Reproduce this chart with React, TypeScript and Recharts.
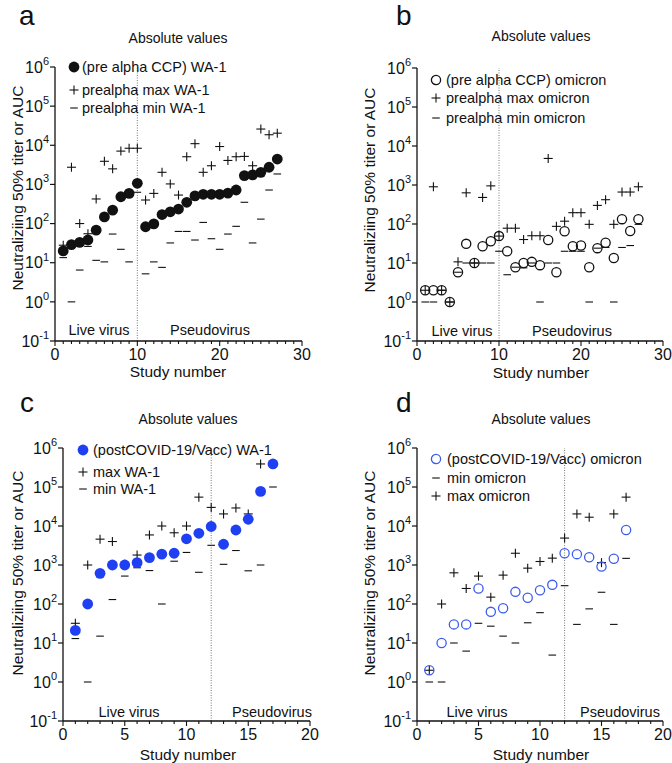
import React from 'react';
import { ScatterChart, Scatter, XAxis, YAxis, ReferenceLine } from 'recharts';

const FONT = '"Liberation Sans", Arial, Helvetica, sans-serif';
const BLUE = '#1f3ff2';
const BLUE_OPEN = '#3d5cf0';
const INK = '#111';

// y ticks (log decades) shared by all panels
const logTicks = [0.1, 1, 10, 100, 1000, 10000, 100000, 1000000];

// panel a / b : pre alpha CCP, 27 studies
const studiesPre = [1, 2, 3, 4, 5, 6, 7, 8, 9, 10, 11, 12, 13, 14, 15, 16, 17, 18, 19, 20, 21, 22, 23, 24, 25, 26, 27];
const preWa1 = [20, 29, 33, 38, 68, 148, 220, 485, 590, 1070, 83, 98, 170, 200, 235, 350, 510, 560, 560, 560, 600, 720, 1680, 1750, 2040, 2750, 4450];
const preWa1Max = [28, 2750, 100, 55, 425, 3900, 2500, 7100, 8400, 8400, 400, 590, 2040, 1030, 535, 5100, 11000, 2040, 3000, 9300, 4100, 5100, 5200, 3000, 26000, 18600, 20400];
const preWa1Min = [13.5, 1, 6.5, 26, 11.5, 10.5, 54, 22, 10.5, 630, 5.2, 10.5, 7.6, 32, 63, 63, 38, 107, 41, 22, 54, 85, 350, 32, 130, 720, 1850];

const preOmi = [2, 2, 2, 1, 5.8, 31, 10, 27, 36, 49, 20, 7.8, 10, 10.7, 8.8, 39, 5.8, 65, 27, 28, 7.8, 24, 33, 13.4, 133, 66, 133];
const preOmiMax = [2, 900, 2, 1, 10.7, 630, 10, 480, 950, 49, 78, 78, 40, 50, 50, 4800, 87, 118, 195, 195, 98, 300, 420, 98, 660, 660, 900];
const preOmiMin = [1, 1, 2, 1, 5.8, 10, 10, 10, 10, 20, 5, 7.8, 7.5, 10, 1, 10, 10, 20, 20, 20, 1, 24, 25, 1, 25, 28, 98];

// panel c / d : postCOVID-19/Vacc, 17 studies
const studiesPost = [1, 2, 3, 4, 5, 6, 7, 8, 9, 10, 11, 12, 13, 14, 15, 16, 17];
const postWa1 = [21, 100, 610, 1000, 1000, 1150, 1550, 1900, 2000, 4700, 6500, 9700, 3400, 7900, 14900, 77000, 390000];
const postWa1Max = [32, 1000, 4600, 4000, 1050, 1800, 5900, 10000, 6700, 10000, 55000, 30000, 20400, 29000, 20400, 390000, 400000];
const postWa1Min = [13, 1, 15, 130, 520, 850, 720, 100, 1250, 2100, 650, 3200, 1040, 2350, 710, 1000, 100000];

const postOmi = [2, 10, 30, 30, 250, 63, 78, 205, 145, 225, 310, 2000, 1900, 1580, 910, 1450, 7900];
const postOmiMax = [2, 100, 630, 250, 520, 150, 550, 2000, 830, 1230, 1500, 4900, 20400, 16800, 1150, 20400, 55000];
const postOmiMin = [1, 1, 10, 6.2, 32, 27, 15, 10, 33, 60, 4.9, 295, 30, 75, 200, 30, 1480];

const xTicks30 = [0, 1, 2, 3, 4, 5, 6, 7, 8, 9, 10, 11, 12, 13, 14, 15, 16, 17, 18, 19, 20, 21, 22, 23, 24, 25, 26, 27, 28, 29, 30];
const xTicks20 = [0, 1, 2, 3, 4, 5, 6, 7, 8, 9, 10, 11, 12, 13, 14, 15, 16, 17, 18, 19, 20];

type Kind = 'dot' | 'open' | 'plus' | 'minus';

function Marker({ kind, cx, cy, color }: { kind: Kind; cx: number; cy: number; color: string }) {
    if (kind === 'dot') return <circle cx={cx} cy={cy} r={5.4} fill={color} />;
    if (kind === 'open') return <circle cx={cx} cy={cy} r={4.6} fill="none" stroke={color} strokeWidth={1.3} />;
    if (kind === 'plus') {
        return (
            <g stroke={INK} strokeWidth={1.1}>
                <line x1={cx - 4.5} x2={cx + 4.5} y1={cy} y2={cy} />
                <line x1={cx} x2={cx} y1={cy - 4.5} y2={cy + 4.5} />
            </g>
        );
    }
    return <line x1={cx - 3.8} x2={cx + 3.8} y1={cy} y2={cy} stroke={INK} strokeWidth={1.1} />;
}

const shapeOf = (kind: Kind, color: string) => (p: any) => <Marker kind={kind} cx={p.cx} cy={p.cy} color={color} />;

const LogTick = ({ x, y, payload }: any) => {
    const exp = Math.round(Math.log10(payload.value));
    return (
        <text x={x} y={y} textAnchor="end" fontSize={16} fill={INK} fontFamily={FONT}>
            <tspan dy="0.36em">10</tspan>
            <tspan dy="-0.72em" fontSize={11}>{exp}</tspan>
        </text>
    );
};

const makeXTick = (majorEvery: number) => ({ x, y, payload }: any) => {
    const major = payload.value % majorEvery === 0;
    return (
        <g>
            <line x1={x} x2={x} y1={y} y2={y + (major ? 5 : 3)} stroke={INK} strokeWidth={1.1} />
            {major && (
                <text x={x} y={y + 19} textAnchor="middle" fontSize={16} fill={INK} fontFamily={FONT}>
                    {payload.value}
                </text>
            )}
        </g>
    );
};

interface PanelProps {
    left: number;
    top: number;
    width: number;
    height: number;
    plot: [number, number, number, number]; // left, right, top, bottom
    studies: number[];
    mid: number[];
    max: number[];
    min: number[];
    midKind: Kind;
    midColor: string;
    xMax: number;
    xTicks: number[];
    majorEvery: number;
    divider: number;
}

function Panel(p: PanelProps) {
    const yAxisWidth = 50;
    const xAxisHeight = 30;
    const [pl, pr, pt, pb] = p.plot;
    const margin = { left: pl - yAxisWidth, right: p.width - pr, top: pt, bottom: p.height - pb - xAxisHeight };
    const pts = (vals: number[]) => p.studies.map((s, i) => ({ x: s, y: vals[i] }));
    return (
        <div style={{ position: 'absolute', left: p.left, top: p.top }}>
            <ScatterChart width={p.width} height={p.height} margin={margin}>
                <XAxis
                    type="number"
                    dataKey="x"
                    domain={[0, p.xMax]}
                    ticks={p.xTicks}
                    interval={0}
                    height={xAxisHeight}
                    tickSize={0}
                    tickMargin={0}
                    tickLine={false}
                    tick={makeXTick(p.majorEvery)}
                    axisLine={{ stroke: INK, strokeWidth: 1.3 }}
                    allowDataOverflow
                />
                <YAxis
                    type="number"
                    dataKey="y"
                    scale="log"
                    domain={[0.1, 1000000]}
                    ticks={logTicks}
                    interval={0}
                    width={yAxisWidth}
                    tickSize={5}
                    tickMargin={1}
                    tick={<LogTick />}
                    tickLine={{ stroke: INK, strokeWidth: 1.2 }}
                    axisLine={{ stroke: INK, strokeWidth: 1.3 }}
                    allowDataOverflow
                />
                <ReferenceLine x={p.divider} stroke="#555" strokeWidth={0.8} strokeDasharray="1 1.5" />
                <Scatter data={pts(p.max)} shape={shapeOf('plus', INK)} isAnimationActive={false} />
                <Scatter data={pts(p.min)} shape={shapeOf('minus', INK)} isAnimationActive={false} />
                <Scatter data={pts(p.mid)} shape={shapeOf(p.midKind, p.midColor)} isAnimationActive={false} />
            </ScatterChart>
        </div>
    );
}

function Txt({ x, y, size, children, anchor = 'center', rotate = false }: any) {
    const tx = anchor === 'center' ? '-50%' : '0';
    return (
        <div
            style={{
                position: 'absolute',
                left: x,
                top: y,
                transform: `translate(${tx}, -50%)${rotate ? ' rotate(-90deg)' : ''}`,
                fontSize: size,
                fontFamily: FONT,
                color: INK,
                whiteSpace: 'nowrap',
                lineHeight: 1,
            }}
        >
            {children}
        </div>
    );
}

function LegendBox({ markerX, textX, rows, items }: { markerX: number; textX: number; rows: number[]; items: { kind: Kind; color: string; label: string }[] }) {
    return (
        <>
            {items.map((it, i) => (
                <React.Fragment key={it.label}>
                    <svg width={14} height={14} style={{ position: 'absolute', left: markerX - 7, top: rows[i] - 7 }}>
                        <Marker kind={it.kind} cx={7} cy={7} color={it.color} />
                    </svg>
                    <Txt x={textX} y={rows[i]} size={14.5} anchor="left">{it.label}</Txt>
                </React.Fragment>
            ))}
        </>
    );
}

function PanelText({ letter, lx, ly, cx, titleY, yTitleX, yTitleY, xTitleY, liveX, pseudoX, regionY }: any) {
    return (
        <>
            <Txt x={lx} y={ly} size={28} anchor="left">{letter}</Txt>
            <Txt x={cx} y={titleY} size={14}>Absolute values</Txt>
            <Txt x={yTitleX} y={yTitleY} size={15.5} rotate>Neutraliziing 50% titer or AUC</Txt>
            <Txt x={cx} y={xTitleY} size={15.5}>Study number</Txt>
            <Txt x={liveX} y={regionY} size={14.5}>Live virus</Txt>
            <Txt x={pseudoX} y={regionY} size={14.5}>Pseudovirus</Txt>
        </>
    );
}

export default function App() {
    return (
        <div style={{ position: 'absolute', left: 0, top: 0, width: 672, height: 763, background: '#fff', overflow: 'hidden' }}>
            <Panel left={0} top={0} width={320} height={380} plot={[55, 302, 67, 341]}
                studies={studiesPre} mid={preWa1} max={preWa1Max} min={preWa1Min}
                midKind="dot" midColor={INK} xMax={30} xTicks={xTicks30} majorEvery={10} divider={10} />
            <Panel left={330} top={0} width={342} height={380} plot={[87, 333, 68, 341]}
                studies={studiesPre} mid={preOmi} max={preOmiMax} min={preOmiMin}
                midKind="open" midColor={INK} xMax={30} xTicks={xTicks30} majorEvery={10} divider={10} />
            <Panel left={0} top={380} width={330} height={383} plot={[63, 310, 68, 341]}
                studies={studiesPost} mid={postWa1} max={postWa1Max} min={postWa1Min}
                midKind="dot" midColor={BLUE} xMax={20} xTicks={xTicks20} majorEvery={5} divider={12} />
            <Panel left={330} top={380} width={342} height={383} plot={[87, 333, 68, 341]}
                studies={studiesPost} mid={postOmi} max={postOmiMax} min={postOmiMin}
                midKind="open" midColor={BLUE_OPEN} xMax={20} xTicks={xTicks20} majorEvery={5} divider={12} />

            <PanelText letter="a" lx={19} ly={16} cx={178} titleY={38} yTitleX={18} yTitleY={188} xTitleY={372} liveX={99} pseudoX={210} regionY={330} />
            <PanelText letter="b" lx={396} ly={16} cx={541} titleY={36} yTitleX={370} yTitleY={190} xTitleY={373} liveX={462} pseudoX={572} regionY={331} />
            <PanelText letter="c" lx={20} ly={403} cx={188} titleY={419} yTitleX={18} yTitleY={573} xTitleY={755} liveX={129} pseudoX={272} regionY={712} />
            <PanelText letter="d" lx={396} ly={403} cx={541} titleY={419} yTitleX={370} yTitleY={573} xTitleY={755} liveX={477} pseudoX={620} regionY={712} />

            <LegendBox markerX={74} textX={82} rows={[67, 90, 108]} items={[
                { kind: 'dot', color: INK, label: '(pre alpha CCP) WA-1' },
                { kind: 'plus', color: INK, label: 'prealpha max WA-1' },
                { kind: 'minus', color: INK, label: 'prealpha min WA-1' },
            ]} />
            <LegendBox markerX={436} textX={446} rows={[80, 98, 118]} items={[
                { kind: 'open', color: INK, label: '(pre alpha CCP) omicron' },
                { kind: 'plus', color: INK, label: 'prealpha max omicron' },
                { kind: 'minus', color: INK, label: 'prealpha min omicron' },
            ]} />
            <LegendBox markerX={83} textX={93} rows={[450, 472, 489]} items={[
                { kind: 'dot', color: BLUE, label: '(postCOVID-19/Vacc) WA-1' },
                { kind: 'plus', color: INK, label: 'max WA-1' },
                { kind: 'minus', color: INK, label: 'min WA-1' },
            ]} />
            <LegendBox markerX={436} textX={447} rows={[459, 478, 496]} items={[
                { kind: 'open', color: BLUE_OPEN, label: '(postCOVID-19/Vacc) omicron' },
                { kind: 'minus', color: INK, label: 'min omicron' },
                { kind: 'plus', color: INK, label: 'max omicron' },
            ]} />
        </div>
    );
}
